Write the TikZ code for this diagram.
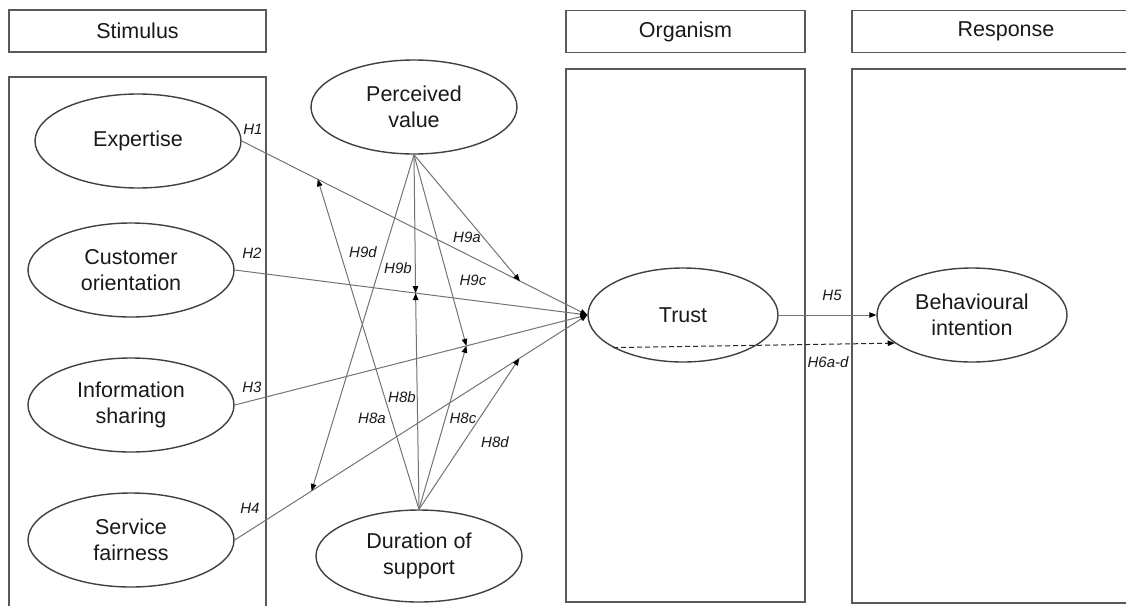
\documentclass[tikz,border=0pt]{standalone}
\usepackage{fontspec}
\setmainfont{Liberation Sans}
\usetikzlibrary{arrows.meta,shapes.geometric,calc}
\tikzset{
  head/.style={draw=black!65, line width=1.4pt, minimum height=42pt, inner sep=0pt, font=\fontsize{21.5}{25}\selectfont, text=black!90},
  panel/.style={draw=black!65, line width=1.4pt},
  construct/.style={ellipse, draw=black!75, line width=1.4pt, minimum width=206pt, minimum height=94pt, inner sep=0pt, align=center, font=\fontsize{21.5}{26}\selectfont, text=black!90},
  hyp/.style={draw=black!55, line width=1pt, -{Triangle[length=7pt,width=5.5pt,color=black]}},
  hlab/.style={font=\fontsize{15}{17}\selectfont\itshape, text=black!90, inner sep=1pt}
}

\begin{document}
\begin{tikzpicture}[x=1pt, y=-1pt]
  \useasboundingbox (0,0) rectangle (1126,605);
  \clip (0,0) rectangle (1126,605);

  % stage headers and panels
  \node[head, minimum width=257pt] (stim) at (137.5,31) {Stimulus};
  \node[head, minimum width=239pt] (org) at (685.5,31.5) {Organism};
  \node[head, minimum width=308pt] (resp) at (1006,31.5) {Response};
  \draw[panel] (9,77) rectangle (266,608);
  \draw[panel] (566,69) rectangle (805,602);
  \draw[panel] (852,69) rectangle (1160,603);

  % constructs
  \node[construct] (exp) at (138,141) {Expertise};
  \node[construct] (cust) at (131,270) {Customer\\orientation};
  \node[construct] (info) at (131,405) {Information\\sharing};
  \node[construct] (serv) at (131,540) {Service\\fairness};
  \node[construct] (pv) at (414,107) {Perceived\\value};
  \node[construct, minimum height=92pt] (dur) at (419,556) {Duration of\\support};
  \node[construct, minimum width=190pt] (trust) at (683,315) {Trust};
  \node[construct, minimum width=190pt] (bi) at (972,315) {Behavioural\\intention};

  % moderation points on the paths
  \coordinate (t9a) at ($(exp.east)!0.805!(trust.west)$);
  \coordinate (t8a) at ($(exp.east)!0.22!(trust.west)$);
  \coordinate (tb) at ($(cust.east)!0.513!(trust.west)$);
  \coordinate (tc) at ($(info.east)!0.657!(trust.west)$);
  \coordinate (t9d) at ($(serv.east)!0.218!(trust.west)$);
  \coordinate (t8d) at ($(serv.east)!0.807!(trust.west)$);

  \foreach \src in {exp,cust,info,serv}
    \draw[hyp] (\src.east) -- (trust.west);
  \foreach \tip in {t9a,tb,tc,t9d}
    \draw[hyp] (pv.south) -- (\tip);
  \foreach \tip in {t8a,tb,tc,t8d}
    \draw[hyp] (dur.north) -- (\tip);
  \draw[hyp] (trust.east) -- (bi.west);
  \draw[hyp, draw=black!85, dash pattern=on 5pt off 3pt] (trust.205) -- (bi.200);

  % hypothesis labels
  \node[hlab] (lh1) at (253,129) {H1};
  \node[hlab] (lh2) at (252,253) {H2};
  \node[hlab] (lh3) at (252,387) {H3};
  \node[hlab] (lh4) at (250,508) {H4};
  \node[hlab] (lh9a) at (467,237) {H9a};
  \node[hlab] (lh9d) at (363,252) {H9d};
  \node[hlab] (lh9b) at (398,268) {H9b};
  \node[hlab] (lh9c) at (473,280) {H9c};
  \node[hlab] (lh8b) at (402,397) {H8b};
  \node[hlab] (lh8a) at (372,418) {H8a};
  \node[hlab] (lh8c) at (463,418) {H8c};
  \node[hlab] (lh8d) at (495,442) {H8d};
  \node[hlab] (lh5) at (832,295) {H5};
  \node[hlab] (lh6) at (828,362) {H6a-d};
\end{tikzpicture}
\end{document}
